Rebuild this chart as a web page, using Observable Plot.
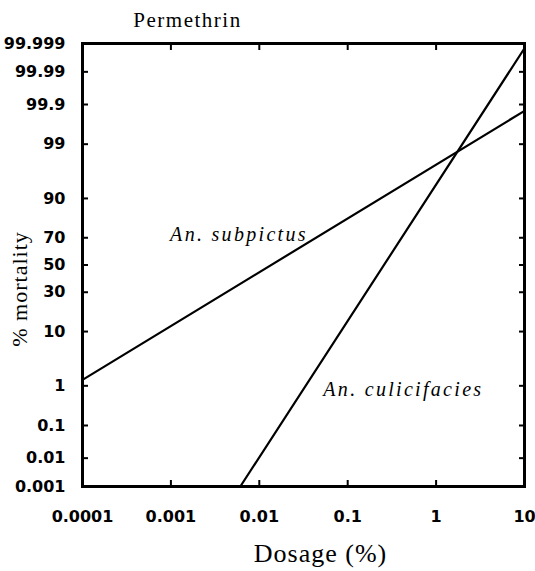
<!DOCTYPE html>
<html>
<head>
<meta charset="utf-8">
<script src="https://cdn.jsdelivr.net/npm/d3@7"></script>
<script src="https://cdn.jsdelivr.net/npm/@observablehq/plot@0.6"></script>
<style>
  html, body { margin: 0; padding: 0; background: #fff; }
</style>
</head>
<body>
<div id="chart"></div>
<script>
// ---- data ----
const chartTitle = "Permethrin";
const xTitle = "Dosage (%)";
const yTitle = "% mortality";

const mortalityTicks = [0.001, 0.01, 0.1, 1, 10, 30, 50, 70, 90, 99, 99.9, 99.99, 99.999];
const mortalityLabels = ["0.001", "0.01", "0.1", "1", "10", "30", "50", "70", "90", "99", "99.9", "99.99", "99.999"];
const dosageTicks = [0.0001, 0.001, 0.01, 0.1, 1, 10];
const dosageLabels = ["0.0001", "0.001", "0.01", "0.1", "1", "10"];

const seriesNames = ["An. subpictus", "An. culicifacies"];
const subpictusDose = [0.0001, 10];
const subpictusMortality = [1.35, 99.85];
const culicifaciesDose = [0.0061, 10];
const culicifaciesMortality = [0.001, 99.9985];

// label anchor points (data units)
const labelDose = [0.00098, 0.053];
const labelMortality = [67.7, 0.59];

// ---- probit transform (inverse normal CDF, Acklam) ----
function probit(pct) {
  const p = pct / 100;
  const a = [-3.969683028665376e+01, 2.209460984245205e+02, -2.759285104469687e+02, 1.383577518672690e+02, -3.066479806614716e+01, 2.506628277459239e+00];
  const b = [-5.447609879822406e+01, 1.615858368580409e+02, -1.556989798598866e+02, 6.680131188771972e+01, -1.328068155288572e+01];
  const c = [-7.784894002430293e-03, -3.223964580411365e-01, -2.400758277161838e+00, -2.549671010366549e+00, 4.374664141464968e+00, 2.938163982698783e+00];
  const d = [7.784695709041462e-03, 3.224671290700398e-01, 2.445134137142996e+00, 3.754408661907416e+00];
  const pl = 0.02425, ph = 1 - pl;
  let q, r;
  if (p < pl) {
    q = Math.sqrt(-2 * Math.log(p));
    return (((((c[0]*q+c[1])*q+c[2])*q+c[3])*q+c[4])*q+c[5]) / ((((d[0]*q+d[1])*q+d[2])*q+d[3])*q+1);
  }
  if (p <= ph) {
    q = p - 0.5; r = q * q;
    return (((((a[0]*r+a[1])*r+a[2])*r+a[3])*r+a[4])*r+a[5])*q / (((((b[0]*r+b[1])*r+b[2])*r+b[3])*r+b[4])*r+1);
  }
  q = Math.sqrt(-2 * Math.log(1 - p));
  return -(((((c[0]*q+c[1])*q+c[2])*q+c[3])*q+c[4])*q+c[5]) / ((((d[0]*q+d[1])*q+d[2])*q+d[3])*q+1);
}

// ---- build tables ----
const lineData = [
  ...subpictusDose.map((dose, i) => ({species: seriesNames[0], dose, z: probit(subpictusMortality[i])})),
  ...culicifaciesDose.map((dose, i) => ({species: seriesNames[1], dose, z: probit(culicifaciesMortality[i])}))
];
const labelData = seriesNames.map((name, i) => ({name, dose: labelDose[i], z: probit(labelMortality[i])}));

const zTicks = mortalityTicks.map(probit);
const yFmt = new Map(zTicks.map((z, i) => [z, mortalityLabels[i]]));
const xFmt = new Map(dosageTicks.map((d, i) => [d, dosageLabels[i]]));

const tickFont = {fontFamily: "DejaVu Sans, sans-serif", fontWeight: "bold", fontSize: 16};
const serif = "Liberation Serif, Times New Roman, serif";

const chart = Plot.plot({
  width: 535,
  height: 571,
  marginLeft: 82,
  marginRight: 11,
  marginTop: 43,
  marginBottom: 85,
  style: {background: "#fff", color: "#000", overflow: "visible"},
  x: {type: "log", domain: [0.0001, 10]},
  y: {type: "linear", domain: [probit(0.001), probit(99.999)]},
  marks: [
    // inward ticks on all four sides
    Plot.axisY(zTicks, {anchor: "left", tickSize: -6, strokeWidth: 2, tickFormat: () => "", label: null}),
    Plot.axisY(zTicks, {anchor: "right", tickSize: -6, strokeWidth: 2, tickFormat: () => "", label: null}),
    Plot.axisX(dosageTicks, {anchor: "top", tickSize: -6, strokeWidth: 2, tickFormat: () => "", label: null}),
    Plot.axisX(dosageTicks, {anchor: "bottom", tickSize: -6, strokeWidth: 2, tickFormat: () => "", label: null}),
    // tick labels
    Plot.axisY(zTicks, {anchor: "left", tickSize: 0, tickPadding: 17, tickFormat: d => yFmt.get(d), label: null, ...tickFont}),
    Plot.axisX(dosageTicks, {anchor: "bottom", tickSize: 0, tickPadding: 24, tickFormat: d => xFmt.get(d), label: null, ...tickFont}),
    Plot.frame({stroke: "#000", strokeWidth: 3}),
    Plot.line(lineData, {x: "dose", y: "z", z: "species", stroke: "#000", strokeWidth: 2.2}),
    Plot.text(labelData, {x: "dose", y: "z", text: "name", textAnchor: "start", lineAnchor: "bottom",
      fontFamily: serif, fontStyle: "italic", fontSize: 20}),
    // titles
    Plot.text([chartTitle], {frameAnchor: "top-left", dx: 105, dy: -17, textAnchor: "middle", lineAnchor: "bottom",
      fontFamily: serif, fontSize: 21}),
    Plot.text([xTitle], {frameAnchor: "bottom", dx: 17, dy: 75, textAnchor: "middle", lineAnchor: "bottom",
      fontFamily: serif, fontSize: 26}),
    Plot.text([yTitle], {frameAnchor: "left", dx: -63, dy: 24, rotate: -90, textAnchor: "middle", lineAnchor: "middle",
      fontFamily: serif, fontSize: 22})
  ]
});
document.getElementById("chart").appendChild(chart);

// letter spacing of the serif texts (series labels, title, x title, y title)
const spacing = ["2.3px", "1.5px", "1px", "1px"];
d3.select(chart).selectAll('g[aria-label="text"]').each(function (_, i) {
  d3.select(this).selectAll("text").style("letter-spacing", spacing[i]);
});
</script>
</body>
</html>
